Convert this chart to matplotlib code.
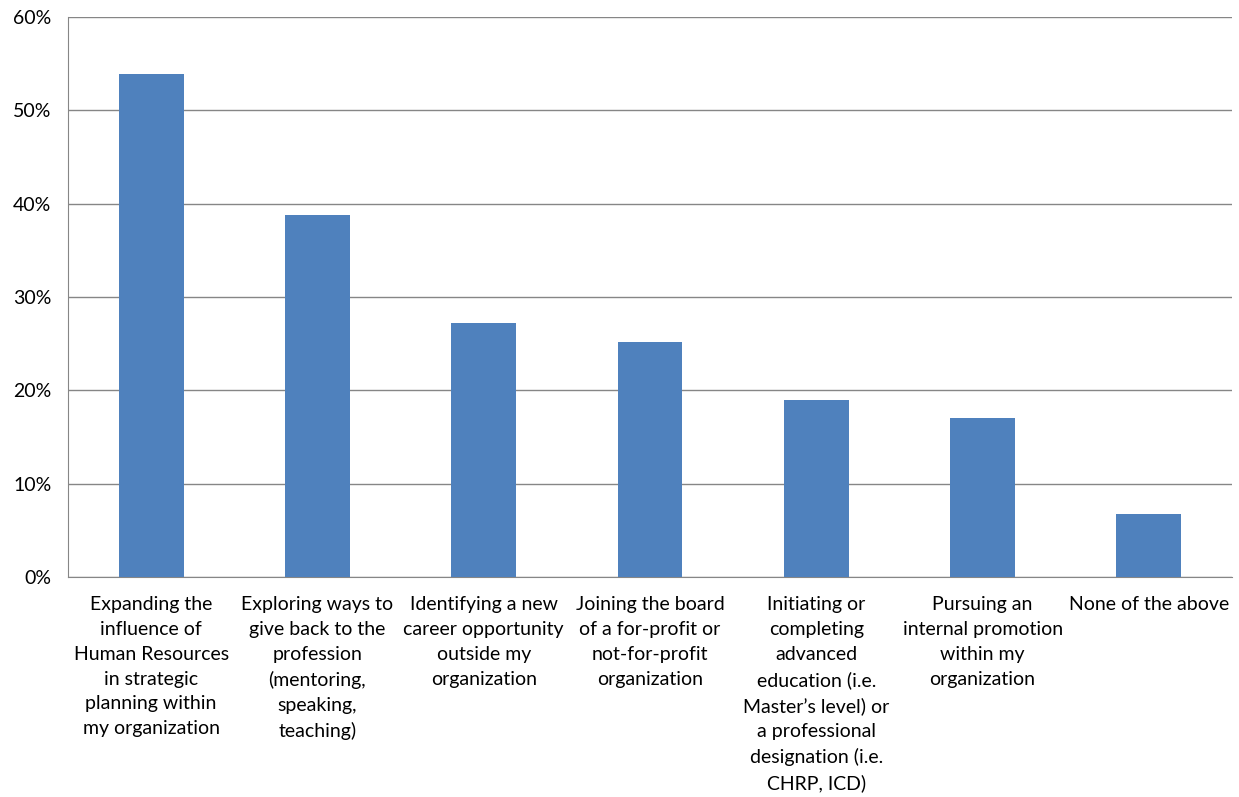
import numpy as np
import matplotlib.pyplot as plt
from matplotlib.ticker import FuncFormatter

labels = [
    "Expanding the\ninfluence of\nHuman Resources\nin strategic\nplanning within\nmy organization",
    "Exploring ways to\ngive back to the\nprofession\n(mentoring,\nspeaking,\nteaching)",
    "Identifying a new\ncareer opportunity\noutside my\norganization",
    "Joining the board\nof a for-profit or\nnot-for-profit\norganization",
    "Initiating or\ncompleting\nadvanced\neducation (i.e.\nMaster\u2019s level) or\na professional\ndesignation (i.e.\nCHRP, ICD)",
    "Pursuing an\ninternal promotion\nwithin my\norganization",
    "None of the above",
]
values = [53.9, 38.8, 27.2, 25.2, 19.0, 17.0, 6.7]
yticks = [0, 10, 20, 30, 40, 50, 60]

plt.rcParams['font.family'] = ['Lato', 'DejaVu Sans']

fig = plt.figure(figsize=(12.39, 7.97), dpi=100)
ax = fig.add_axes([68 / 1239, 1 - 577 / 797, (1232 - 68) / 1239, (577 - 17) / 797])

x = np.arange(len(values))
ax.bar(x, values, width=0.39, color='#4F81BD', zorder=3)

ax.set_xlim(-0.5, len(values) - 0.5)
ax.set_ylim(0, 60)
ax.set_yticks(yticks)
ax.yaxis.set_major_formatter(FuncFormatter(lambda v, p: f"{v:.0f}%"))
ax.set_xticks(x)
ax.set_xticklabels(labels, fontsize=14, linespacing=1.55, va='top', ha='center')
ax.tick_params(axis='y', labelsize=14, length=0, pad=12)
ax.tick_params(axis='x', length=0, pad=14)

ax.grid(axis='y', color='#868686', linewidth=1, zorder=0)
for s in ['top', 'right']:
    ax.spines[s].set_visible(False)
ax.spines['left'].set_color('#868686')
ax.spines['bottom'].set_color('#868686')

fig.savefig('out.png', dpi=100)
